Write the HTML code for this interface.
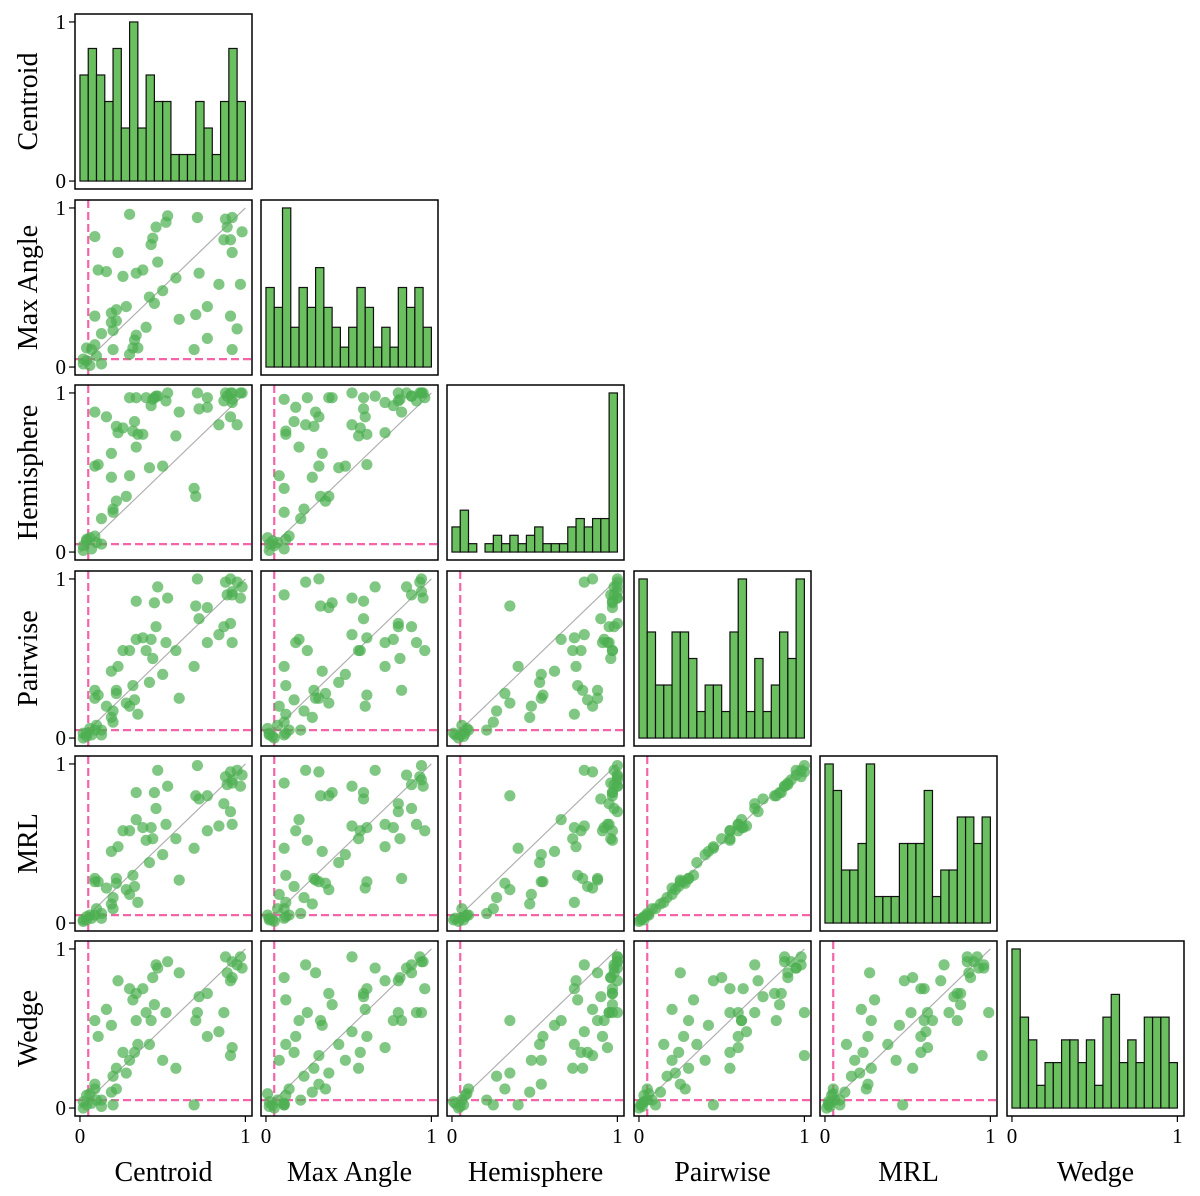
<!DOCTYPE html>
<html><head><meta charset="utf-8"><style>
html,body{margin:0;padding:0;background:#fff;}
svg{display:block;font-family:"Liberation Serif",serif;}
</style></head><body>
<svg id="chart" width="1200" height="1196" xmlns="http://www.w3.org/2000/svg"></svg>
<script>
const variables = ["Centroid","Max Angle","Hemisphere","Pairwise","MRL","Wedge"];
const centroid = [0.30,0.53,0.52,0.46,0.44,0.43,0.23,0.09,0.11,0.16,0.26,0.34,0.38,0.47,0.58,0.71,0.88,0.92,0.89,0.98,0.87,0.91,0.92,0.72,0.84,0.97,0.50,0.42,0.45,0.28,0.22,0.19,0.09,0.22,0.19,0.20,0.13,0.40,0.34,0.33,0.35,0.32,0.30,0.20,0.60,0.70,0.77,0.91,0.95,0.77,0.69,0.92,0.04,0.07,0.09,0.10,0.02,0.04,0.02,0.06,0.13];
const maxAngle = [0.96,0.95,0.91,0.88,0.81,0.77,0.72,0.82,0.61,0.60,0.57,0.59,0.61,0.66,0.56,0.94,0.93,0.94,0.88,0.85,0.80,0.80,0.72,0.59,0.52,0.52,0.48,0.44,0.40,0.38,0.36,0.34,0.32,0.29,0.28,0.23,0.21,0.25,0.20,0.17,0.12,0.12,0.08,0.11,0.30,0.33,0.38,0.32,0.24,0.18,0.11,0.11,0.12,0.11,0.14,0.07,0.05,0.04,0.02,0.01,0.02];
const hemisphere = [0.97,1.00,0.95,0.98,0.96,0.92,0.75,0.88,0.55,0.85,0.78,0.97,0.74,0.98,0.73,1.00,1.00,1.00,0.98,1.00,0.95,1.00,0.94,0.90,0.80,1.00,0.54,0.53,0.97,0.35,0.32,0.62,0.54,0.79,0.47,0.27,0.21,0.97,0.66,0.82,0.74,0.76,0.48,0.25,0.88,0.35,0.97,0.85,0.80,0.91,0.40,0.96,0.08,0.02,0.10,0.06,0.04,0.07,0.01,0.09,0.05];
const pairwise = [0.55,0.88,0.60,0.70,0.50,0.62,0.45,0.30,0.27,0.20,0.55,0.86,0.63,0.95,0.55,1.00,0.98,0.92,0.90,0.95,0.70,0.72,0.60,0.75,0.65,0.88,0.40,0.35,0.85,0.22,0.28,0.42,0.25,0.30,0.13,0.17,0.05,0.55,0.62,0.24,0.15,0.33,0.20,0.10,0.25,0.83,0.82,1.00,0.98,0.60,0.45,0.90,0.03,0.02,0.05,0.08,0.00,0.01,0.03,0.06,0.02];
const mrl = [0.58,0.86,0.62,0.72,0.53,0.60,0.48,0.28,0.26,0.22,0.58,0.82,0.60,0.96,0.53,0.99,0.92,0.90,0.87,0.93,0.75,0.70,0.62,0.78,0.61,0.86,0.43,0.38,0.82,0.21,0.25,0.45,0.26,0.28,0.12,0.16,0.06,0.52,0.65,0.23,0.13,0.30,0.18,0.09,0.27,0.80,0.80,0.95,0.96,0.58,0.47,0.88,0.04,0.03,0.05,0.09,0.01,0.02,0.02,0.05,0.03];
const wedge = [0.75,0.92,0.60,0.90,0.82,0.55,0.80,0.55,0.45,0.62,0.35,0.72,0.75,0.88,0.25,0.60,0.95,0.92,0.85,0.88,0.60,0.80,0.38,0.70,0.48,0.95,0.30,0.40,0.65,0.22,0.12,0.52,0.15,0.25,0.10,0.20,0.05,0.60,0.55,0.35,0.40,0.68,0.30,0.02,0.85,0.55,0.72,0.33,0.90,0.45,0.02,0.82,0.08,0.03,0.12,0.05,0.00,0.02,0.04,0.09,0.01];
const series = [centroid,maxAngle,hemisphere,pairwise,mrl,wedge];
const tickValues = [0,1];
const tickLabels = ["0","1"];
const threshold = 0.05;
const nBins = 20;

const NS="http://www.w3.org/2000/svg";
const svg=document.getElementById('chart');
const lefts=[75,261,447,634,820,1007], tops=[14,200,385,571,756,941];
const PW=177, PH=175;
const XMIN=-0.03, XMAX=1.04, YMIN=-0.05, YMAX=1.05;
function mk(tag,attrs,parent){const e=document.createElementNS(NS,tag);for(const k in attrs)e.setAttribute(k,attrs[k]);(parent||svg).appendChild(e);return e;}
function sx(c,v){return lefts[c]+(v-XMIN)/(XMAX-XMIN)*PW;}
function sy(r,v){return tops[r]+PH-(v-YMIN)/(YMAX-YMIN)*PH;}

for(let r=0;r<6;r++){
  for(let c=0;c<=r;c++){
    const g=mk('g',{});
    
    
    if(r===c){
      const vals=series[c];const counts=new Array(nBins).fill(0);
      vals.forEach(v=>{let b=Math.floor(v*nBins);if(b>=nBins)b=nBins-1;if(b<0)b=0;counts[b]++;});
      const mx=Math.max(...counts);
      counts.forEach((n,i)=>{
        const x0=sx(c,i/nBins), x1=sx(c,(i+1)/nBins);
        const y0=sy(r,0), y1=sy(r,n/mx);
        const b=mk('rect',{x:x0,y:y1,width:x1-x0,height:y0-y1,fill:'#6abf5e',stroke:'#111','stroke-width':1.2},g);
        
        
      });
    } else {
      const xs=series[c], ys=series[r];
      const d=mk('line',{x1:sx(c,0),y1:sy(r,0),x2:sx(c,1),y2:sy(r,1),stroke:'#b0b0b0','stroke-width':1.2},g);
      
      
      const v=mk('line',{x1:sx(c,threshold),y1:tops[r],x2:sx(c,threshold),y2:tops[r]+PH,stroke:'#f564a9','stroke-width':2.2,'stroke-dasharray':'8,4'},g);
      
      
      const h=mk('line',{x1:lefts[c],y1:sy(r,threshold),x2:lefts[c]+PW,y2:sy(r,threshold),stroke:'#f564a9','stroke-width':2.2,'stroke-dasharray':'8,4'},g);
      
      
      xs.forEach((xv,i)=>{
        const p=mk('circle',{cx:sx(c,xv),cy:sy(r,ys[i]),r:5.6,fill:'#4caf50','fill-opacity':0.7},g);
        
        
      });
    }
    const fr=mk('rect',{x:lefts[c],y:tops[r],width:PW,height:PH,fill:'none',stroke:'#000','stroke-width':1.5},g);
    
    
    if(c===0){
      tickValues.forEach((tv,i)=>{
        mk('line',{x1:lefts[0]-6,x2:lefts[0],y1:sy(r,tv),y2:sy(r,tv),stroke:'#000','stroke-width':1.2});
        const t=mk('text',{x:lefts[0]-9,y:sy(r,tv)+7,'text-anchor':'end','font-size':21});
        t.textContent=tickLabels[i];
        
        
      });
      const yl=mk('text',{x:0,y:0,'text-anchor':'middle','font-size':28,transform:`translate(37,${tops[r]+PH/2}) rotate(-90)`});
      yl.textContent=variables[r];
      
      
    }
    if(r===5){
      tickValues.forEach((tv,i)=>{
        mk('line',{x1:sx(c,tv),x2:sx(c,tv),y1:tops[5]+PH,y2:tops[5]+PH+6,stroke:'#000','stroke-width':1.2});
        const t=mk('text',{x:sx(c,tv),y:tops[5]+PH+27,'text-anchor':'middle','font-size':21});
        t.textContent=tickLabels[i];
        
        
      });
      const xl=mk('text',{x:lefts[c]+PW/2,y:1181,'text-anchor':'middle','font-size':28});
      xl.textContent=variables[c];
      
      
    }
  }
}
</script>
</body></html>
